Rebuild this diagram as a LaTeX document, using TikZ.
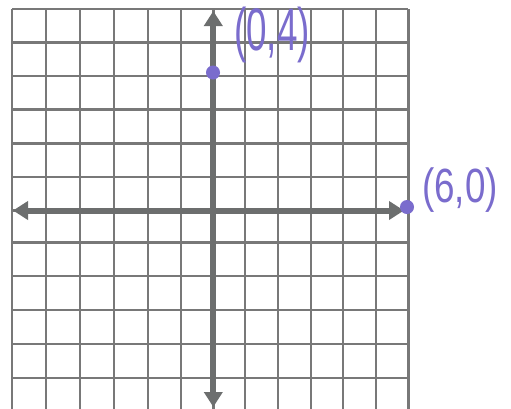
\documentclass[tikz,border=0pt]{standalone}
\usepackage{fontspec}
\setmainfont{Liberation Sans}
\usetikzlibrary{arrows.meta}
\definecolor{gridgray}{RGB}{120,120,120}
\definecolor{axisgray}{RGB}{108,110,110}
\definecolor{pen}{RGB}{122,108,205}
\tikzset{
  gridline/.style={draw=gridgray, line width=2.4pt},
  axisline/.style={draw=axisgray, line width=6pt, {Triangle[length=15pt,width=18pt]}-{Triangle[length=15pt,width=18pt]}},
  ptdot/.style={circle, fill=pen, inner sep=0pt, minimum size=14pt},
  ptlabel/.style={text=pen, inner sep=0pt, font=\fontsize{40}{40}\selectfont}
}
\begin{document}
\begin{tikzpicture}[x=1pt,y=-1pt]
\useasboundingbox[fill=white] (0,0) rectangle (511,408);
% grid
\foreach \gx in {12,45.7,80,114,147.7,181,213.3,245,277.7,311,343,376,408.3}
  \draw[gridline] (\gx,9) -- (\gx,410);
\foreach \gy in {9,42.3,76,109.3,143.3,176.7,210.5,242.3,276,310,344,377.7}
  \draw[gridline] (12,\gy) -- (408.3,\gy);
% axes
\coordinate (xl) at (13,210.5);
\coordinate (xr) at (404,210.5);
\coordinate (yt) at (213.3,11);
\coordinate (yb) at (213.3,407);
\draw[axisline] (xl) -- (xr);
\draw[axisline] (yb) -- (yt);
% points
\node[ptdot] (p04) at (213,72.5) {};
\node[ptdot] (p60) at (407,207) {};
\node[ptlabel] (l04) at (272,35) {\scalebox{0.92}[1.5]{(0,4)}};
\node[ptlabel] (l60) at (460,190) {\scalebox{0.92}[1.2]{(6,0)}};
\end{tikzpicture}
\end{document}
